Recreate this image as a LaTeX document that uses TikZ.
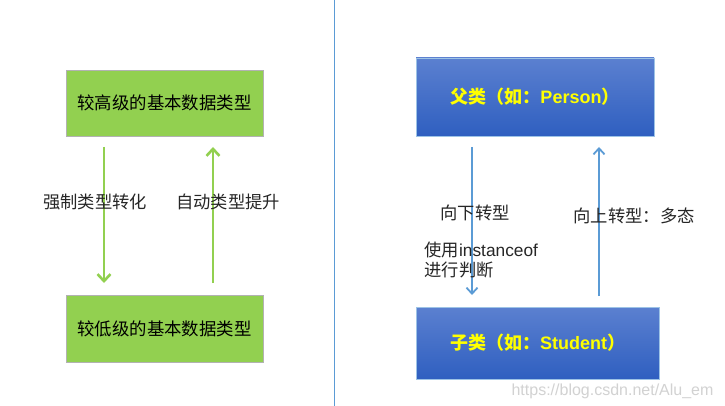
\documentclass[tikz,border=0pt]{standalone}
\usepackage{fontspec}
\setmainfont{Noto Sans CJK SC}
\newfontfamily\latinfont{Liberation Sans}
\usetikzlibrary{arrows.meta}
\definecolor{gfill}{HTML}{92D050}
\definecolor{gline}{HTML}{92D050}
\definecolor{btop}{HTML}{5B80D0}
\definecolor{bbot}{HTML}{2F5FC0}
\definecolor{bline}{HTML}{5B9BD5}
\definecolor{ytext}{HTML}{FFFF00}
\begin{document}
\begin{tikzpicture}[x=1pt,y=-1pt,
  greenbox/.style={draw=gray!60,line width=0.8pt,fill=gfill,font=\fontsize{17.4}{20}\selectfont,text=black},
  bluebox/.style={draw=bline!60,line width=0.5pt,top color=btop,bottom color=bbot,font=\fontsize{18}{20}\selectfont\bfseries,text=ytext},
  garrow/.style={draw=gline,line width=2.6pt,-{Straight Barb[length=7pt,width=13pt,line width=2.6pt]}},
  barrow/.style={draw=bline,line width=1.8pt,-{Straight Barb[length=6pt,width=11pt,line width=1.8pt]}},
  lbl/.style={font=\fontsize{17.3}{21}\selectfont,text=black!85}]
\useasboundingbox (0,0) rectangle (725,406);
\fill[white] (0,0) rectangle (725,406);
% separator
\draw[bline,line width=0.8pt] (334,0) coordinate (s1) -- (334,406) coordinate (s2);
% left side
\node[greenbox,minimum width=197pt,minimum height=66pt] (hi) at (164.5,103) {较高级的基本数据类型};
\node[greenbox,minimum width=197pt,minimum height=67pt] (lo) at (164.5,328.5) {较低级的基本数据类型};
\coordinate (d1) at (104,147); \coordinate (d2) at (104,283);
\coordinate (u1) at (213,283); \coordinate (u2) at (213,147);
\draw[garrow] (d1) -- (d2);
\draw[garrow] (u1) -- (u2);
\node[lbl] (l1) at (95,202) {强制类型转化};
\node[lbl] (l2) at (228,202) {自动类型提升};
% right side
\node[bluebox,minimum width=238pt,minimum height=78pt] (par) at (535,97) {父类（如：{\latinfont\bfseries Person}）};
\node[bluebox,minimum width=243pt,minimum height=72pt] (chi) at (537.5,343) {子类（如：{\latinfont\bfseries Student}）};
\coordinate (e1) at (472,147); \coordinate (e2) at (472,295);
\coordinate (f1) at (599,296); \coordinate (f2) at (599,147);
\draw[barrow] (e1) -- (e2);
\draw[barrow] (f1) -- (f2);
\node[lbl,anchor=west] (r1) at (437,213) {向下转型};
\node[lbl,anchor=west,align=left] (r2) at (421,259.5) {使用{\latinfont instanceof}\\[-1pt]进行判断};
\node[lbl,anchor=west] (r3) at (570,216) {向上转型：多态};
\node[font=\latinfont\fontsize{16}{18}\selectfont,text=gray!35,anchor=east] (wm) at (717,391) {https://blog.csdn.net/Alu\_em};
\end{tikzpicture}
\end{document}
